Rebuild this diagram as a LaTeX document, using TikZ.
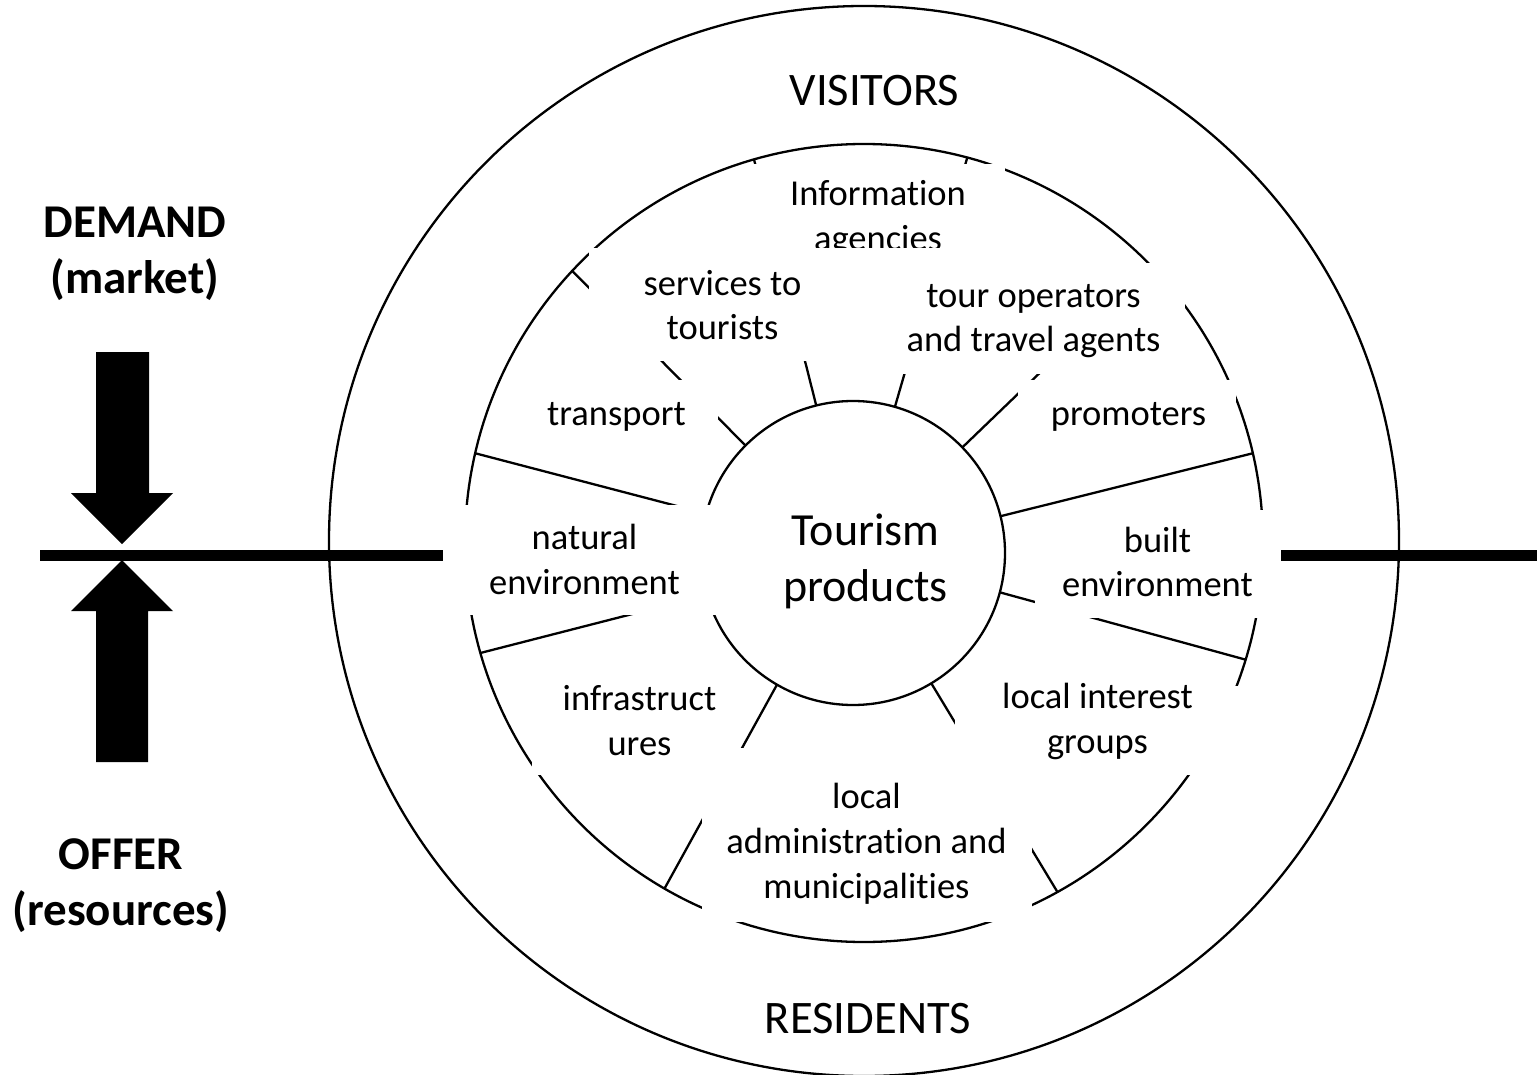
\documentclass[tikz,border=0pt]{standalone}
\usepackage{fontspec}
\setmainfont{Carlito}[Ligatures=NoCommon]
\begin{document}
\begin{tikzpicture}[x=0.5pt,y=-0.5pt,
  ring/.style={circle, draw=black, line width=1.15pt, inner sep=0pt, outer sep=0pt},
  spoke/.style={draw=black, line width=1.15pt},
  thickline/.style={draw=black, line width=5.5pt},
  blockarrow/.style={fill=black},
  mask/.style={fill=white},
  lbl/.style={font=\fontsize{18.25}{22.3}\selectfont, align=center, inner sep=0pt, anchor=base},
  biglbl/.style={font=\fontsize{23.3}{28.3}\selectfont, align=center, inner sep=0pt, anchor=base},
  boldlbl/.style={font=\fontsize{23.5}{28}\selectfont\bfseries, align=center, inner sep=0pt, anchor=base}]
\useasboundingbox (0,0) rectangle (1537,1075);

% rings
\node[ring, minimum size=535pt] (outer) at (864,541) {};
\node[ring, minimum size=399pt] (middle) at (864,543) {};
\node[ring, fill=white, minimum size=152pt] (inner) at (853,553) {};

% spokes
\draw[spoke] (inner.135) -- (middle.137);
\draw[spoke] (inner.104) -- (middle.106);
\draw[spoke] (inner.74) -- (middle.75);
\draw[spoke] (inner.44) -- (middle.44);
\draw[spoke] (inner.14) -- (middle.13);
\draw[spoke] (inner.345) -- (middle.343);
\draw[spoke] (inner.301) -- (middle.299);
\draw[spoke] (inner.240) -- (middle.240);
\draw[spoke] (inner.196) -- (middle.196);
\draw[spoke] (inner.165) -- (middle.167);

% thick horizontal line
\coordinate (hlA) at (40,555.5);
\coordinate (hlB) at (460,555.5);
\coordinate (hrA) at (1270,555.5);
\coordinate (hrB) at (1537,555.5);
\draw[thickline] (hlA) -- (hlB);
\draw[thickline] (hrA) -- (hrB);

% block arrows
\fill[blockarrow] (96,352) -- (149,352) -- (149,493) -- (173,493) -- (122,544) -- (71,493) -- (96,493) -- cycle;
\fill[blockarrow] (96,762) -- (148,762) -- (148,611) -- (173,611) -- (122,560) -- (71,611) -- (96,611) -- cycle;

% labels with their white boxes (base anchor = baseline of last line)
\fill[mask] (750,164) rectangle (1005,250);
\node[lbl] (info) at (878,250.1) {Information\\agencies};

\fill[mask] (589,248) rectangle (945,361);
\node[lbl] (serv) at (722.5,340) {services to\\tourists};

\fill[mask] (530,380) rectangle (718,445);
\node[lbl] (trans) at (616.5,425) {transport};

\fill[mask] (443,505) rectangle (716,615);
\node[lbl] (natenv) at (584.5,594) {natural\\environment};

\fill[mask] (895,263) rectangle (1185,374);
\node[lbl] (tour) at (1033.5,351.7) {tour operators\\and travel agents};

\fill[mask] (1018,380) rectangle (1236,440);
\node[lbl] (prom) at (1128.5,425) {promoters};

\fill[mask] (1035,510) rectangle (1281,618);
\node[lbl] (builtenv) at (1157.5,596.7) {built\\environment};

\fill[mask] (955,686) rectangle (1242,775);
\node[lbl] (lig) at (1097.5,753) {local interest\\groups};

\fill[mask] (532,660) rectangle (740,775);
\node[lbl] (infra) at (639.5,755) {infrastruct\\ures};

\fill[mask] (702,748) rectangle (1032,922);
\node[lbl] (admin) at (866.5,898) {local\\administration and\\municipalities};

% central and ring labels
\node[biglbl, font=\fontsize{23}{28.3}\selectfont] (tp) at (865.5,601.7) {Tourism\\products};
\node[biglbl] (vis) at (874.5,106) {VISITORS};
\node[biglbl] (res) at (868,1033) {RESIDENTS};

% side labels
\node[boldlbl] (demand) at (135,293) {DEMAND\\(market)};
\node[boldlbl] (offer) at (121,925) {OFFER\\(resources)};
\end{tikzpicture}
\end{document}
